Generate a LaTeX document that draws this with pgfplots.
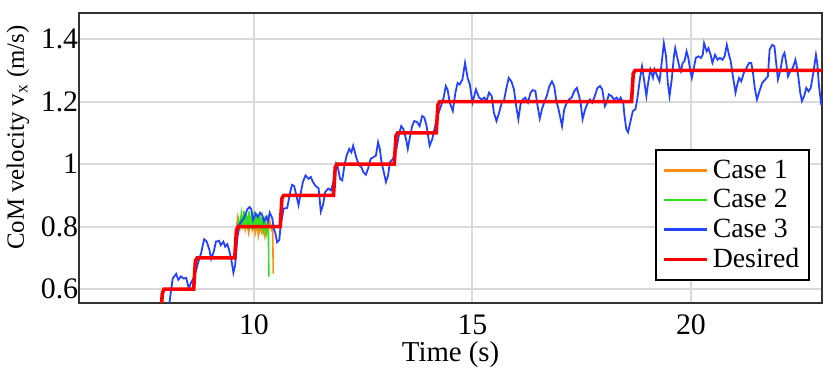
\documentclass[border=0pt]{standalone}
\usepackage{pgfplots}
\pgfplotsset{compat=1.18}
\usepackage{fontspec}
\setmainfont{Liberation Serif}

\definecolor{caseone}{RGB}{255,140,20}
\definecolor{casetwo}{RGB}{50,225,30}
\definecolor{casethree}{RGB}{35,65,255}
\definecolor{desired}{RGB}{250,0,0}
\definecolor{gridgray}{RGB}{218,218,218}

\begin{document}
\begin{tikzpicture}[font=\fontsize{15}{18}\selectfont]
\begin{axis}[
    scale only axis,
    width=374pt,
    height=146pt,
    xmin=6, xmax=23,
    ymin=0.556, ymax=1.484,
    xtick={10,15,20},
    ytick={0.6,0.8,1,1.2,1.4},
    major tick length=0pt,
    /pgf/number format/assume math mode=true,
    xticklabel shift=2.5pt,
    yticklabel shift=-3pt,
    xlabel={Time (s)},
    ylabel={CoM velocity v\textsubscript{x} (m/s)},
    xlabel style={yshift=3.5pt, font=\fontsize{14.5}{17}\selectfont},
    ylabel style={at={(ticklabel cs:0.57)}, yshift=-1pt,
        font=\fontsize{12.5}{15}\selectfont},
    grid=major,
    major grid style={gridgray, line width=1pt},
    axis line style={black!80, line width=1.3pt},
    legend cell align=left,
    legend style={at={(0.984,0.075)}, anchor=south east,
        draw=black, line width=1pt, inner sep=3pt,
        font=\fontsize{14}{16}\selectfont},
    legend image code/.code={\draw[#1, line width=1.5pt] (0pt,0pt) -- (22pt,0pt);},
    after end axis/.code={
        \path (rel axis cs:1,1) ++(4pt,6.5pt);
    },
]
% Case 1
\addplot[caseone, line width=0.8pt] coordinates {
(9.60,0.80) (9.63,0.83) (9.66,0.79) (9.70,0.82) (9.73,0.80) (9.76,0.83)
(9.80,0.79) (9.84,0.82) (9.88,0.78) (9.92,0.81) (9.96,0.79) (10.00,0.82)
(10.03,0.78) (10.07,0.81) (10.10,0.77) (10.14,0.80) (10.18,0.78) (10.22,0.81)
(10.25,0.77) (10.29,0.80) (10.32,0.78) (10.36,0.82) (10.40,0.79) (10.43,0.80)
(10.44,0.65)
};
\addlegendentry{Case 1}
% Case 2
\addplot[casetwo, line width=0.8pt] coordinates {
(9.62,0.79) (9.65,0.82) (9.68,0.80) (9.71,0.84) (9.74,0.80) (9.77,0.85)
(9.80,0.80) (9.83,0.84) (9.86,0.79) (9.89,0.85) (9.92,0.80) (9.95,0.84)
(9.98,0.79) (10.01,0.85) (10.04,0.80) (10.07,0.84) (10.10,0.79) (10.13,0.84)
(10.16,0.80) (10.19,0.83) (10.22,0.79) (10.25,0.82) (10.28,0.78) (10.31,0.82)
(10.33,0.80) (10.34,0.64)
};
\addlegendentry{Case 2}
% Case 3
\addplot[casethree, line width=0.9pt] coordinates {
(8.05,0.54) (8.07,0.561) (8.14,0.634) (8.22,0.649) (8.27,0.630) (8.33,0.641)
(8.39,0.634) (8.45,0.636) (8.51,0.602) (8.56,0.621) (8.62,0.636) (8.67,0.657)
(8.73,0.689) (8.79,0.715) (8.86,0.760) (8.92,0.752) (8.98,0.726) (9.02,0.697)
(9.08,0.720) (9.13,0.752) (9.20,0.755) (9.24,0.741) (9.30,0.752) (9.34,0.736)
(9.39,0.744) (9.43,0.726) (9.48,0.695) (9.53,0.653) (9.57,0.678) (9.62,0.763)
(9.66,0.805) (9.71,0.816) (9.77,0.827) (9.85,0.856) (9.90,0.863) (9.94,0.856)
(9.98,0.821) (10.04,0.842) (10.09,0.831) (10.14,0.845) (10.19,0.837) (10.23,0.816)
(10.28,0.831) (10.32,0.816) (10.36,0.845) (10.42,0.827) (10.45,0.795) (10.49,0.779)
(10.53,0.750) (10.58,0.757) (10.61,0.804) (10.68,0.858) (10.76,0.860) (10.83,0.911)
(10.87,0.934) (10.92,0.930) (10.97,0.900) (11.02,0.869) (11.06,0.900) (11.12,0.943)
(11.18,0.964) (11.25,0.953) (11.30,0.959) (11.35,0.943) (11.40,0.932) (11.48,0.922)
(11.53,0.848) (11.58,0.869) (11.63,0.911) (11.70,0.922) (11.76,0.916) (11.82,0.943)
(11.88,1.001) (11.92,0.990) (11.97,0.953) (12.02,0.948) (12.07,0.996) (12.12,1.027)
(12.18,1.049) (12.23,1.038) (12.27,1.059) (12.31,1.038) (12.35,1.017) (12.41,0.996)
(12.46,0.990) (12.50,0.975) (12.56,0.966) (12.61,0.985) (12.67,1.017) (12.73,1.022)
(12.79,1.027) (12.84,1.070) (12.88,1.049) (12.92,1.006) (12.97,0.975) (13.02,0.943)
(13.07,0.964) (13.11,1.006) (13.18,1.017) (13.26,1.049) (13.32,1.096) (13.37,1.122)
(13.42,1.112) (13.48,1.080) (13.52,1.049) (13.56,1.080) (13.62,1.122) (13.67,1.138)
(13.73,1.135) (13.79,1.122) (13.85,1.154) (13.90,1.149) (13.95,1.122) (14.02,1.059)
(14.08,1.080) (14.13,1.112) (14.20,1.154) (14.28,1.186) (14.34,1.213) (14.39,1.250)
(14.43,1.239) (14.48,1.197) (14.55,1.170) (14.61,1.229) (14.66,1.260) (14.71,1.255)
(14.77,1.271) (14.83,1.324) (14.89,1.276) (14.94,1.255) (15.00,1.197) (15.08,1.239)
(15.15,1.213) (15.21,1.207) (15.27,1.213) (15.32,1.202) (15.38,1.229) (15.44,1.218)
(15.49,1.165) (15.55,1.138) (15.61,1.165) (15.67,1.197) (15.72,1.202) (15.77,1.239)
(15.83,1.276) (15.89,1.265) (15.95,1.239) (16.00,1.186) (16.05,1.144) (16.10,1.191)
(16.15,1.207) (16.21,1.213) (16.27,1.197) (16.33,1.229) (16.38,1.237) (16.44,1.234)
(16.49,1.186) (16.54,1.146) (16.59,1.176) (16.64,1.197) (16.70,1.218) (16.76,1.250)
(16.82,1.265) (16.87,1.250) (16.92,1.202) (16.97,1.176) (17.01,1.149) (17.05,1.122)
(17.10,1.176) (17.16,1.197) (17.21,1.207) (17.27,1.213) (17.33,1.234) (17.39,1.244)
(17.44,1.218) (17.48,1.191) (17.52,1.144) (17.58,1.176) (17.64,1.197) (17.69,1.207)
(17.74,1.197) (17.80,1.218) (17.86,1.244) (17.92,1.250) (17.97,1.239) (18.03,1.186)
(18.07,1.197) (18.12,1.223) (18.18,1.218) (18.24,1.207) (18.30,1.213) (18.35,1.202)
(18.39,1.213) (18.45,1.197) (18.48,1.154) (18.52,1.112) (18.56,1.102) (18.61,1.133)
(18.67,1.170) (18.73,1.176) (18.77,1.207) (18.83,1.271) (18.88,1.313) (18.92,1.276)
(18.98,1.218) (19.01,1.250) (19.07,1.303) (19.13,1.276) (19.17,1.303) (19.23,1.281)
(19.28,1.265) (19.33,1.324) (19.38,1.387) (19.43,1.345) (19.47,1.260) (19.51,1.218)
(19.56,1.271) (19.61,1.345) (19.64,1.371) (19.68,1.345) (19.74,1.308) (19.77,1.297)
(19.81,1.324) (19.85,1.329) (19.90,1.361) (19.94,1.340) (19.98,1.303) (20.02,1.276)
(20.06,1.303) (20.11,1.340) (20.17,1.345) (20.23,1.340) (20.27,1.350) (20.30,1.387)
(20.36,1.361) (20.40,1.371) (20.45,1.350) (20.49,1.324) (20.55,1.350) (20.61,1.334)
(20.66,1.340) (20.72,1.334) (20.77,1.345) (20.82,1.382) (20.86,1.356) (20.91,1.329)
(20.96,1.281) (21.02,1.229) (21.06,1.255) (21.10,1.276) (21.15,1.265) (21.21,1.292)
(21.27,1.308) (21.33,1.324) (21.38,1.324) (21.42,1.292) (21.46,1.244) (21.51,1.207)
(21.58,1.239) (21.63,1.260) (21.70,1.271) (21.76,1.281) (21.80,1.366) (21.86,1.382)
(21.91,1.377) (21.95,1.324) (21.99,1.271) (22.05,1.303) (22.10,1.345) (22.14,1.356)
(22.18,1.324) (22.22,1.281) (22.27,1.297) (22.33,1.308) (22.39,1.334) (22.42,1.313)
(22.46,1.276) (22.50,1.229) (22.54,1.202) (22.59,1.218) (22.64,1.244) (22.69,1.233)
(22.74,1.244) (22.80,1.292) (22.86,1.350) (22.89,1.324) (22.93,1.250) (22.98,1.191)
(23.02,1.19)
};
\addlegendentry{Case 3}
% Desired
\addplot[desired, line width=1.8pt] coordinates {
(7.87,0.50) (7.90,0.585) (7.94,0.6) (8.62,0.6) (8.66,0.69) (8.70,0.7)
(9.56,0.7) (9.60,0.79) (9.64,0.8) (10.60,0.8) (10.64,0.89) (10.68,0.9)
(11.82,0.9) (11.86,0.99) (11.90,1.0) (13.21,1.0) (13.25,1.09) (13.29,1.1)
(14.17,1.1) (14.21,1.19) (14.25,1.2) (18.64,1.2) (18.68,1.29) (18.72,1.3)
(23.5,1.3)
};
\addlegendentry{Desired}
\end{axis}
\end{tikzpicture}
\end{document}
